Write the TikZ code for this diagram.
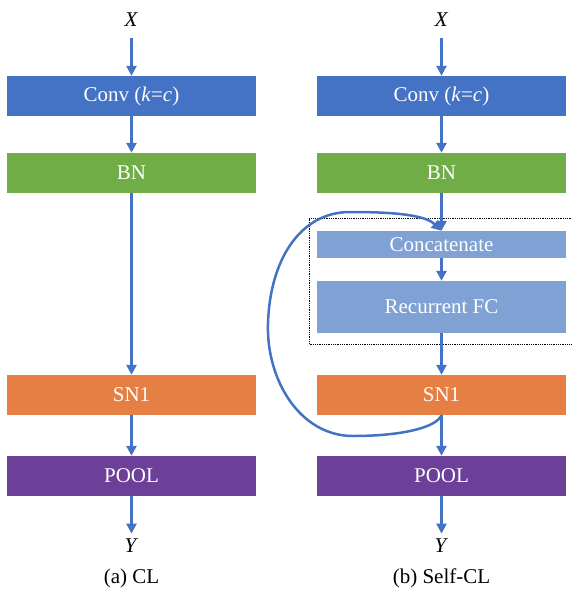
\documentclass[tikz,border=0pt]{standalone}
\usepackage{fontspec}
\setmainfont{Liberation Serif}
\usetikzlibrary{arrows.meta}

\definecolor{convblue}{HTML}{4472C4}
\definecolor{bngreen}{HTML}{70AD47}
\definecolor{snorange}{HTML}{E67F43}
\definecolor{poolpurple}{HTML}{6C3F99}
\definecolor{fclight}{HTML}{7FA1D4}

\begin{document}
\begin{tikzpicture}[x=1pt,y=-1pt,
		blk/.style={minimum width=249pt,minimum height=40pt,inner sep=0pt,text=white,font=\fontsize{21}{24}\selectfont},
		lbl/.style={font=\fontsize{21}{24}\selectfont},
		arr/.style={draw=convblue,line width=2.5pt,-{Triangle[width=10pt,length=10pt]}}]
		\useasboundingbox (0,0) rectangle (571,596);
		% (a) CL
		\node[lbl] (xa) at (131.5,20) {\textit{X}};
		\node[blk,fill=convblue] (conva) at (131.5,96) {Conv (\textit{k}=\textit{c})};
		\node[blk,fill=bngreen] (bna) at (131.5,173) {BN};
		\node[blk,fill=snorange] (sna) at (131.5,395) {SN1};
		\node[blk,fill=poolpurple] (poola) at (131.5,476) {POOL};
		\node[lbl] (ya) at (131.5,546) {\textit{Y}};
		\node[lbl] (capa) at (131.5,578) {(a) CL};
		\draw[arr,shorten <=8pt] (xa) -- (conva);
		\draw[arr] (conva) -- (bna);
		\draw[arr] (bna) -- (sna);
		\draw[arr] (sna) -- (poola);
		\draw[arr,shorten >=2pt] (poola) -- (ya);
		% (b) Self-CL
		\node[lbl] (xb) at (441.5,20) {\textit{X}};
		\node[blk,fill=convblue] (convb) at (441.5,96) {Conv (\textit{k}=\textit{c})};
		\node[blk,fill=bngreen] (bnb) at (441.5,173) {BN};
		\node[blk,fill=fclight,minimum height=27pt] (cat) at (441.5,244.5) {Concatenate};
		\node[blk,fill=fclight,minimum height=52pt] (rfc) at (441.5,307) {Recurrent FC};
		\node[blk,fill=snorange] (snb) at (441.5,395) {SN1};
		\node[blk,fill=poolpurple] (poolb) at (441.5,476) {POOL};
		\node[lbl] (yb) at (441.5,546) {\textit{Y}};
		\node[lbl] (capb) at (441.5,578) {(b) Self-CL};
		\draw[densely dotted,line width=0.8pt] (573,218) -- (309,218) -- (309,344) -- (573,344);
		\draw[arr,shorten <=8pt] (xb) -- (convb);
		\draw[arr] (convb) -- (bnb);
		\draw[arr] (bnb) -- (cat);
		\draw[arr] (cat) -- (rfc);
		\draw[arr] (rfc) -- (snb);
		\draw[arr] (snb) -- (poolb);
		\draw[arr,shorten >=2pt] (poolb) -- (yb);
		\draw[arr] (snb.south) .. controls (436,428) and (400,436) .. (353,436) .. controls (300,436) and (266,380) .. (268,323) .. controls (270,260) and (300,212) .. (350,212) .. controls (395,212) and (425,215) .. (cat.north);
\end{tikzpicture}
\end{document}
